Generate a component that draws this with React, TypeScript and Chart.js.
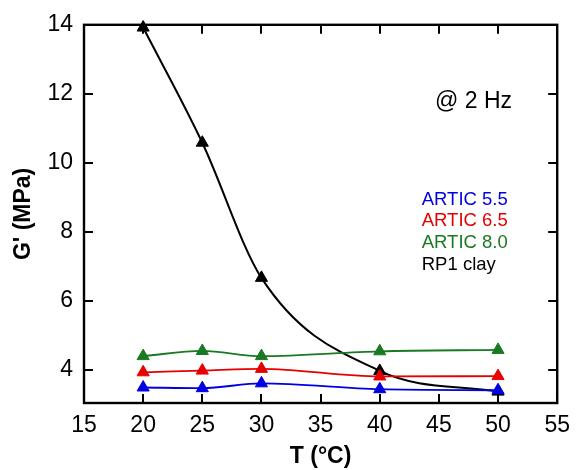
import React, { useEffect, useRef } from "react";
import { Chart, registerables } from "chart.js";

Chart.register(...registerables);

const temps = [20, 25, 30, 40, 50];
const artic55 = [3.48, 3.46, 3.6, 3.43, 3.4];
const artic65 = [3.92, 3.97, 4.02, 3.8, 3.81];
const artic80 = [4.39, 4.54, 4.39, 4.53, 4.57];
const rp1Clay = [13.92, 10.58, 6.66, 3.96, 3.36];

const xTicks = [15, 20, 25, 30, 35, 40, 45, 50, 55];
const yTicks = [4, 6, 8, 10, 12, 14];

const seriesNames = ["ARTIC 5.5", "ARTIC 6.5", "ARTIC 8.0", "RP1 clay"];
const seriesColors = ["#0000e0", "#e60000", "#187a22", "#000000"];
const annotationText = "@ 2 Hz";

const FONT = "'Liberation Sans', Arial, sans-serif";

const framePlugin = {
  id: "frame",
  afterDatasetsDraw(chart: any) {
    const { ctx, chartArea: a, scales } = chart;
    const x = scales.x;
    const y = scales.y;
    ctx.save();
    ctx.strokeStyle = "#000";
    ctx.lineWidth = 2.4;
    ctx.strokeRect(a.left, a.top, a.right - a.left, a.bottom - a.top);
    const tl = 9;
    ctx.lineWidth = 2;
    ctx.beginPath();
    xTicks.forEach((v) => {
      const px = Math.round(x.getPixelForValue(v));
      ctx.moveTo(px, a.bottom);
      ctx.lineTo(px, a.bottom - tl);
      ctx.moveTo(px, a.top);
      ctx.lineTo(px, a.top + tl);
    });
    yTicks.forEach((v) => {
      const py = Math.round(y.getPixelForValue(v));
      ctx.moveTo(a.left, py);
      ctx.lineTo(a.left + tl, py);
      ctx.moveTo(a.right, py);
      ctx.lineTo(a.right - tl, py);
    });
    ctx.stroke();

    // annotation
    ctx.fillStyle = "#000";
    ctx.textAlign = "left";
    ctx.textBaseline = "alphabetic";
    ctx.font = `23px ${FONT}`;
    ctx.fillText(annotationText, x.getPixelForValue(44.67), y.getPixelForValue(11.6));

    // legend text
    ctx.font = `18.5px ${FONT}`;
    const lx = x.getPixelForValue(43.55);
    const ly = y.getPixelForValue(8.785);
    seriesNames.forEach((name, i) => {
      ctx.fillStyle = seriesColors[i];
      ctx.fillText(name, lx, ly + i * 21.7);
    });
    ctx.restore();
  },
};

export default function App() {
  const ref = useRef<HTMLCanvasElement | null>(null);
  useEffect(() => {
    document.body.style.margin = "0";
    const series = [artic55, artic65, artic80, rp1Clay];
    const chart = new Chart(ref.current as HTMLCanvasElement, {
      type: "line",
      data: {
        datasets: series.map((vals, i) => ({
          label: seriesNames[i],
          data: temps.map((t, j) => ({ x: t, y: vals[j] })),
          borderColor: seriesColors[i],
          backgroundColor: seriesColors[i],
          borderWidth: i === 3 ? 2 : 1.8,
          pointStyle: "triangle",
          pointRadius: 7,
          pointBorderWidth: 1,
          pointBackgroundColor: seriesColors[i],
          pointBorderColor: seriesColors[i],
          cubicInterpolationMode: "monotone",
          clip: false,
        })),
      },
      options: {
        animation: false,
        responsive: false,
        events: [],
        layout: { padding: { top: 20, right: 16, left: 0, bottom: 0 } },
        plugins: { legend: { display: false }, tooltip: { enabled: false } },
        scales: {
          x: {
            type: "linear",
            min: 15,
            max: 55,
            grid: { display: false, drawTicks: false },
            border: { display: false },
            afterBuildTicks: (s: any) => {
              s.ticks = xTicks.map((v) => ({ value: v }));
            },
            afterFit: (s: any) => {
              s.height = 67;
            },
            ticks: {
              padding: 9,
              color: "#000",
              font: { family: FONT, size: 23 },
              maxRotation: 0,
            },
            title: {
              display: true,
              text: "T (°C)",
              color: "#000",
              font: { family: FONT, size: 23, weight: "bold" },
              padding: { top: 0, bottom: 0 },
            },
          },
          y: {
            type: "linear",
            min: 3.03,
            max: 14,
            grid: { display: false, drawTicks: false },
            border: { display: false },
            afterBuildTicks: (s: any) => {
              s.ticks = yTicks.map((v) => ({ value: v }));
            },
            afterFit: (s: any) => {
              s.width = 84;
            },
            ticks: {
              padding: 11,
              color: "#000",
              font: { family: FONT, size: 23 },
            },
            title: {
              display: true,
              text: "G' (MPa)",
              color: "#000",
              font: { family: FONT, size: 23, weight: "bold" },
              padding: { top: 10, bottom: 0 },
            },
          },
        },
      },
      plugins: [framePlugin],
    } as any);
    return () => chart.destroy();
  }, []);
  return (
    <div style={{ position: "absolute", left: 0, top: 0, width: 579, height: 470 }}>
      <canvas ref={ref} width={579} height={470} />
    </div>
  );
}
